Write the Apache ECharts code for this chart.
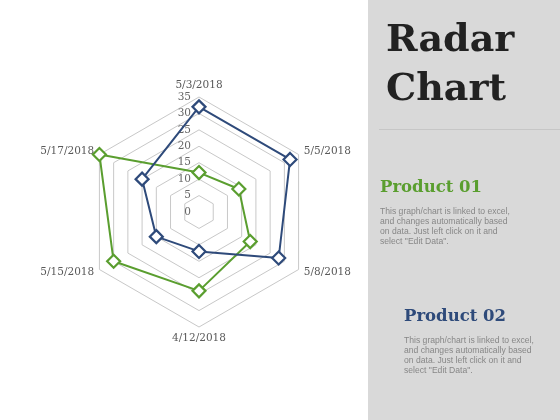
<!DOCTYPE html>
<html>
<head>
<meta charset="utf-8">
<script src="https://cdn.jsdelivr.net/npm/echarts@6.0.0/dist/echarts.min.js"></script>
<style>
html, body { margin: 0; padding: 0; background: #fff; }
#main { width: 560px; height: 420px; }
</style>
</head>
<body>
<div id="main"></div>
<script>
// dates, clockwise from the top as in the picture
var dates = ['5/3/2018', '5/5/2018', '5/8/2018', '4/12/2018', '5/15/2018', '5/17/2018'];
var product01 = [12, 14, 18, 24, 30, 35];
var product02 = [32, 32, 28, 12, 15, 20];
var axisMax = 35;

var chart = echarts.init(document.getElementById('main'));

// echarts lays radar axes out counter-clockwise, so flip the order after the first
var order = [0, 5, 4, 3, 2, 1];
function ccw(arr) {
    return order.map(function (i) { return arr[i]; });
}

var indicator = ccw(dates).map(function (d, i) {
    var ind = { name: d, min: 0, max: axisMax };
    // tick labels only on the top axis
    if (i === 0) {
        ind.axisLabel = { show: true, color: '#666', fontFamily: 'DejaVu Serif', fontSize: 10.5, margin: 8 };
    }
    return ind;
});

var desc = 'This graph/chart is linked to excel,\nand changes automatically based\non data. Just left click on it and\nselect "Edit Data".';

var option = {
    backgroundColor: '#fff',
    animation: false,
    radar: {
        center: [199, 212],
        radius: 115,
        startAngle: 90,
        shape: 'polygon',
        splitNumber: 7,
        nameGap: 6,
        axisName: { color: '#595959', fontFamily: 'DejaVu Serif', fontSize: 10.5 },
        axisLine: { show: false },
        axisTick: { show: false },
        axisLabel: { show: false },
        splitLine: { lineStyle: { color: '#c8c8c8', width: 1 } },
        splitArea: { show: false },
        indicator: indicator
    },
    graphic: [
        { type: 'rect', shape: { x: 368, y: 0, width: 192, height: 420 }, style: { fill: '#d9d9d9' }, z: -10 },
        { type: 'line', shape: { x1: 379, y1: 129.5, x2: 560, y2: 129.5 }, style: { stroke: '#c6c6c6', lineWidth: 1 } },
        { type: 'text', x: 386, y: 41, style: { text: 'Radar', font: 'bold 38px "DejaVu Serif"', fill: '#222', verticalAlign: 'middle' } },
        { type: 'text', x: 386, y: 90.5, style: { text: 'Chart', font: 'bold 38px "DejaVu Serif"', fill: '#222', verticalAlign: 'middle' } },
        { type: 'text', x: 380, y: 188, style: { text: 'Product 01', font: 'bold 16.5px "DejaVu Serif"', fill: '#5a9e2f', verticalAlign: 'middle' } },
        { type: 'text', x: 380, y: 207, style: { text: desc, font: '8.6px "Liberation Sans"', fill: '#878787', lineHeight: 10 } },
        { type: 'text', x: 404, y: 317, style: { text: 'Product 02', font: 'bold 16.5px "DejaVu Serif"', fill: '#2e4a7a', verticalAlign: 'middle' } },
        { type: 'text', x: 404, y: 335, style: { text: desc, font: '8.6px "Liberation Sans"', fill: '#878787', lineHeight: 10.3 } }
    ],
    series: [{
        type: 'radar',
        symbol: 'diamond',
        symbolSize: 13,
        data: [
            {
                name: 'Product 01',
                value: ccw(product01),
                lineStyle: { color: '#5a9e2f', width: 2 },
                itemStyle: { color: '#fff', borderColor: '#5a9e2f', borderWidth: 2.2 }
            },
            {
                name: 'Product 02',
                value: ccw(product02),
                lineStyle: { color: '#2e4a7a', width: 2 },
                itemStyle: { color: '#fff', borderColor: '#2e4a7a', borderWidth: 2.2 }
            }
        ]
    }]
};

chart.setOption(option);
</script>
</body>
</html>
